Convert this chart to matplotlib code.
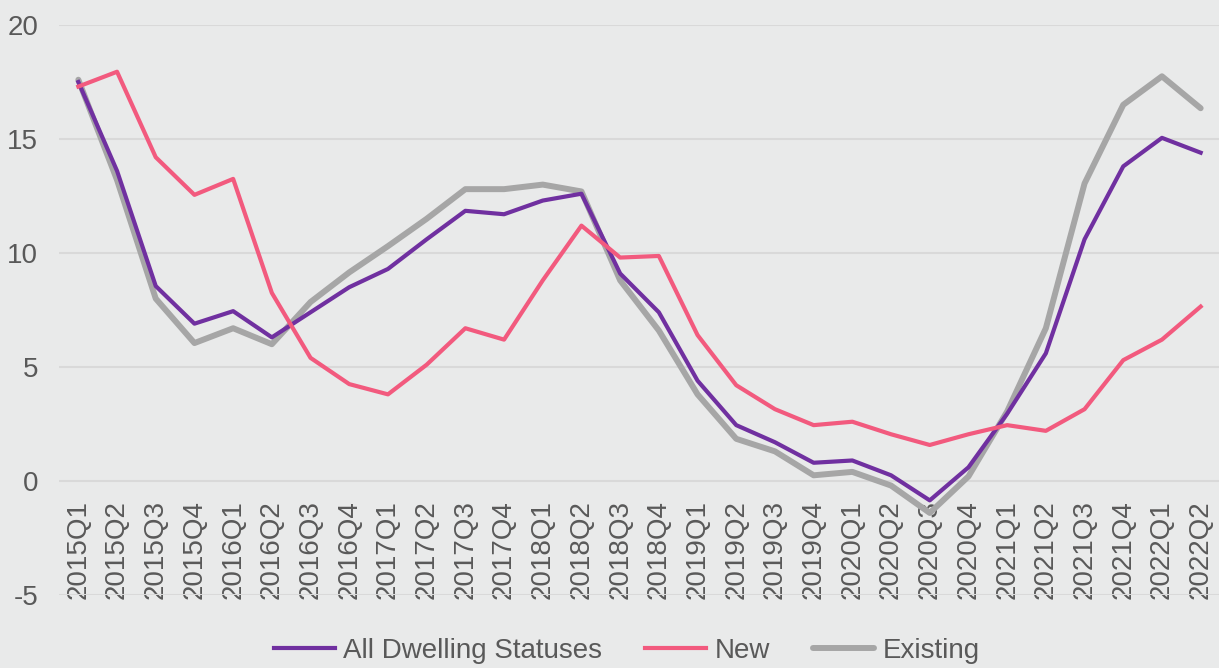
import matplotlib
matplotlib.use("Agg")
import matplotlib.pyplot as plt

quarters = ["2015Q1", "2015Q2", "2015Q3", "2015Q4", "2016Q1", "2016Q2", "2016Q3", "2016Q4",
            "2017Q1", "2017Q2", "2017Q3", "2017Q4", "2018Q1", "2018Q2", "2018Q3", "2018Q4",
            "2019Q1", "2019Q2", "2019Q3", "2019Q4", "2020Q1", "2020Q2", "2020Q3", "2020Q4",
            "2021Q1", "2021Q2", "2021Q3", "2021Q4", "2022Q1", "2022Q2"]

all_dwelling = [17.5, 13.6, 8.55, 6.9, 7.45, 6.3, 7.4, 8.5, 9.3, 10.6, 11.85, 11.7, 12.3, 12.6,
                9.1, 7.4, 4.4, 2.45, 1.7, 0.8, 0.9, 0.25, -0.85, 0.6, 2.95, 5.6, 10.6, 13.8,
                15.05, 14.4]
new = [17.3, 17.95, 14.2, 12.55, 13.25, 8.25, 5.4, 4.25, 3.8, 5.1, 6.7, 6.2, 8.8, 11.2,
       9.8, 9.87, 6.4, 4.2, 3.15, 2.45, 2.6, 2.05, 1.58, 2.05, 2.45, 2.2, 3.15, 5.3, 6.2, 7.65]
existing = [17.6, 13.2, 8.0, 6.05, 6.7, 6.0, 7.85, 9.15, 10.3, 11.5, 12.8, 12.8, 13.0, 12.7,
            8.8, 6.6, 3.8, 1.85, 1.3, 0.25, 0.4, -0.2, -1.4, 0.2, 3.05, 6.7, 13.05, 16.5,
            17.75, 16.35]

y_ticks = [-5, 0, 5, 10, 15, 20]

plt.rcParams['font.family'] = ['Liberation Sans', 'DejaVu Sans']
text_color = "#595959"
bg = "#e9eaea"

fig = plt.figure(figsize=(12.19, 6.68), dpi=100, facecolor=bg)
ax = fig.add_axes([59 / 1219, 73 / 668, 1161 / 1219, 570 / 668], facecolor=bg)

x = list(range(len(quarters)))
ax.plot(x, all_dwelling, color="#7030a0", lw=3.0, label="All Dwelling Statuses", zorder=3)
ax.plot(x, new, color="#f25a7e", lw=3.0, label="New", zorder=3)
ax.plot(x, existing, color="#a6a6a6", lw=4.3, label="Existing", zorder=2,
        solid_capstyle="round")

ax.set_xlim(-0.5, len(quarters) - 0.5)
ax.set_ylim(-5, 20)
ax.set_yticks(y_ticks)
ax.set_yticklabels([str(v) for v in y_ticks])
ax.yaxis.grid(True, color="#d9d9d9", lw=1.5)
ax.set_axisbelow(True)

for s in ax.spines.values():
    s.set_visible(False)
ax.spines['bottom'].set_position(('data', 0))

ax.set_xticks(x)
ax.set_xticklabels(quarters, rotation=90, va="top", ha="center")
ax.tick_params(axis="x", length=0, pad=14, labelsize=20, colors=text_color)
ax.tick_params(axis="y", length=0, pad=15, labelsize=20, colors=text_color)

leg = fig.legend(loc="center", bbox_to_anchor=(0.514, 0.026), ncol=3, frameon=False,
                 fontsize=20, handlelength=2.2, handletextpad=0.3, columnspacing=1.55)
for t in leg.get_texts():
    t.set_color(text_color)

fig.savefig("out.png", dpi=100, facecolor=bg)
